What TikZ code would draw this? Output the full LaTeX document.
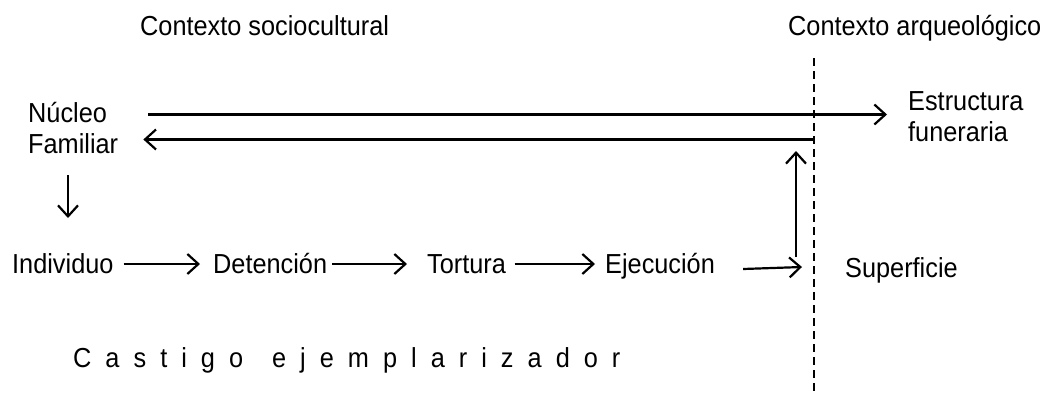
\documentclass[tikz,border=0pt]{standalone}
\usepackage{fontspec}
\setmainfont{Liberation Sans}[FakeStretch=0.92]
\newfontfamily\spacedfont{Liberation Sans}[FakeStretch=0.92,LetterSpace=51]
\usetikzlibrary{arrows.meta}
\begin{document}
\begin{tikzpicture}[x=1pt,y=-1pt,
  txt/.style={inner sep=0pt, anchor=base west, font=\fontsize{27.5}{31}\selectfont},
  arr/.style={line width=2.2pt, -{Straight Barb[length=11pt,width=20pt,line width=2.2pt]}},
  divider/.style={line width=2.2pt, dash pattern=on 8pt off 5pt}]
\useasboundingbox (0,0) rectangle (1055,394);
% texts
\node[txt] (ctxs) at (140,35) {Contexto sociocultural};
\node[txt] (ctxa) at (788,35) {Contexto arqueológico};
\node[txt] (nuc) at (28,122) {Núcleo};
\node[txt] (fam) at (28,153) {Familiar};
\node[txt] (est) at (908,110) {Estructura};
\node[txt] (fun) at (908,141) {funeraria};
\node[txt] (ind) at (12,273) {Individuo};
\node[txt] (det) at (213,273) {Detención};
\node[txt] (tor) at (427,273) {Tortura};
\node[txt] (eje) at (605,273) {Ejecución};
\node[txt] (sup) at (845,277) {Superficie};
\node[txt, font=\fontsize{27.5}{31}\spacedfont] (cas) at (73,367) {Castigo\hspace{8pt} ejemplarizador};
% divider
\coordinate (dtop) at (814,58);
\coordinate (dbot) at (814,394);
\draw[divider] (dtop) -- (dbot);
% coordinates for free ends
\coordinate (ret) at (813,139.5);
\coordinate (up1) at (796,257);
\coordinate (up2) at (796,151);
% connectors
\draw[arr] ([xshift=41pt,yshift=7.5pt]nuc.base east) -- ([xshift=-21pt,yshift=-4.5pt]est.base west);
\draw[arr] (ret) -- ([xshift=25pt,yshift=13.5pt]fam.base east);
\draw[arr] ([xshift=40pt,yshift=-22pt]fam.base west) -- ([xshift=56pt,yshift=55pt]ind.base west);
\draw[arr] ([xshift=10pt,yshift=9pt]ind.base east) -- ([xshift=-13pt,yshift=9pt]det.base west);
\draw[arr] ([xshift=5pt,yshift=9pt]det.base east) -- ([xshift=-20pt,yshift=9pt]tor.base west);
\draw[arr] ([xshift=8.5pt,yshift=9pt]tor.base east) -- ([xshift=-10pt,yshift=9pt]eje.base west);
\draw[arr] ([xshift=28pt,yshift=4pt]eje.base east) -- ([xshift=-43pt,yshift=10pt]sup.base west);
\draw[arr] (up1) -- (up2);
\end{tikzpicture}
\end{document}
